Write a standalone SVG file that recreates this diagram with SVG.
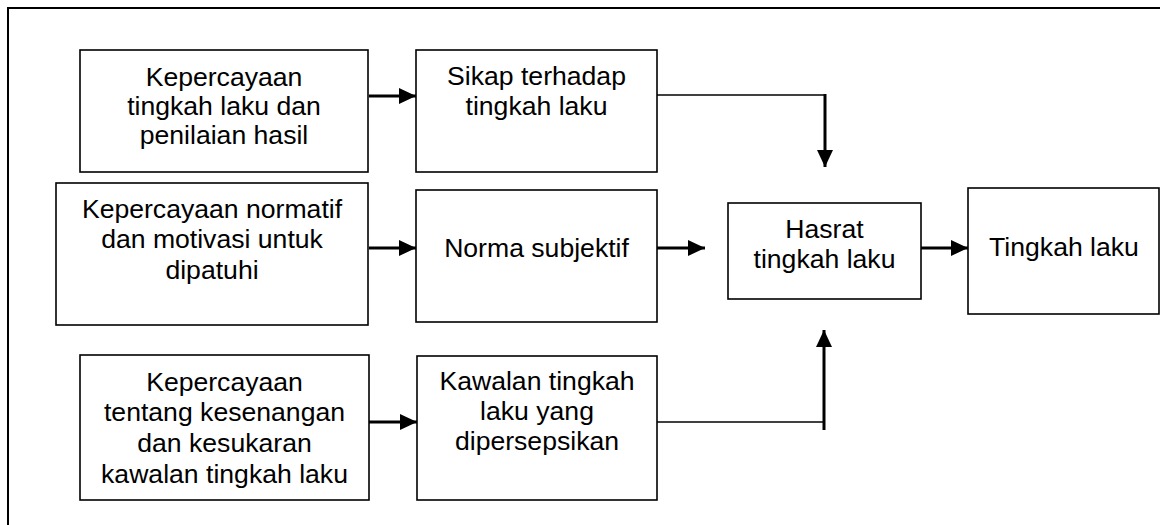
<svg xmlns="http://www.w3.org/2000/svg" width="1160" height="525" viewBox="0 0 1160 525">
<style>
.box{fill:#fff;stroke:#000;stroke-width:1.6}
.t{font-family:"Liberation Sans",Arial,sans-serif;font-size:26.6px;fill:#000;text-anchor:middle}
.thin{fill:none;stroke:#000;stroke-width:1.6}
.thick{fill:none;stroke:#000;stroke-width:3}
</style>
<defs>
<marker id="ah" markerUnits="userSpaceOnUse" markerWidth="17" markerHeight="16" refX="17" refY="8" orient="auto">
<path d="M0,0 L17,8 L0,16 z" fill="#000"/>
</marker>
</defs>
<rect x="0" y="0" width="1160" height="525" fill="#fff"/>
<rect x="8" y="8" width="1170" height="540" fill="none" stroke="#000" stroke-width="2"/>
<g id="connectors">
<line class="thick" x1="369" y1="96" x2="416" y2="96" marker-end="url(#ah)"/>
<polyline class="thin" points="657,95 825,95"/>
<line class="thick" x1="825" y1="94" x2="825" y2="167" marker-end="url(#ah)"/>
<line class="thick" x1="369" y1="248" x2="416" y2="248" marker-end="url(#ah)"/>
<line class="thick" x1="657" y1="248" x2="705" y2="248" marker-end="url(#ah)"/>
<line class="thick" x1="921" y1="248" x2="968" y2="248" marker-end="url(#ah)"/>
<line class="thick" x1="369" y1="422" x2="417" y2="422" marker-end="url(#ah)"/>
<polyline class="thin" points="657,422 825,422"/>
<line class="thick" x1="824" y1="430" x2="824" y2="330" marker-end="url(#ah)"/>
</g>
<g id="n1">
<rect class="box" x="80" y="50" width="288" height="122"/>
<text class="t" x="224" y="86">Kepercayaan</text>
<text class="t" x="224" y="115">tingkah laku dan</text>
<text class="t" x="224" y="144">penilaian hasil</text>
</g>
<g id="n2">
<rect class="box" x="416" y="50" width="241" height="122"/>
<text class="t" x="536.5" y="85">Sikap terhadap</text>
<text class="t" x="536.5" y="115">tingkah laku</text>
</g>
<g id="n3">
<rect class="box" x="56" y="183" width="312" height="142"/>
<text class="t" x="212" y="218">Kepercayaan normatif</text>
<text class="t" x="212" y="248">dan motivasi untuk</text>
<text class="t" x="212" y="279">dipatuhi</text>
</g>
<g id="n4">
<rect class="box" x="416" y="190" width="241" height="132"/>
<text class="t" x="536.5" y="257">Norma subjektif</text>
</g>
<g id="n5">
<rect class="box" x="728" y="203" width="193" height="96"/>
<text class="t" x="824.5" y="238">Hasrat</text>
<text class="t" x="824.5" y="268">tingkah laku</text>
</g>
<g id="n6">
<rect class="box" x="968" y="188" width="191" height="126"/>
<text class="t" x="1064" y="256">Tingkah laku</text>
</g>
<g id="n7">
<rect class="box" x="80" y="355" width="289" height="145"/>
<text class="t" x="224.5" y="391">Kepercayaan</text>
<text class="t" x="224.5" y="421">tentang kesenangan</text>
<text class="t" x="224.5" y="452">dan kesukaran</text>
<text class="t" x="224.5" y="483">kawalan tingkah laku</text>
</g>
<g id="n8">
<rect class="box" x="417" y="356" width="240" height="144"/>
<text class="t" x="537" y="390">Kawalan tingkah</text>
<text class="t" x="537" y="420">laku yang</text>
<text class="t" x="537" y="450">dipersepsikan</text>
</g>
</svg>
